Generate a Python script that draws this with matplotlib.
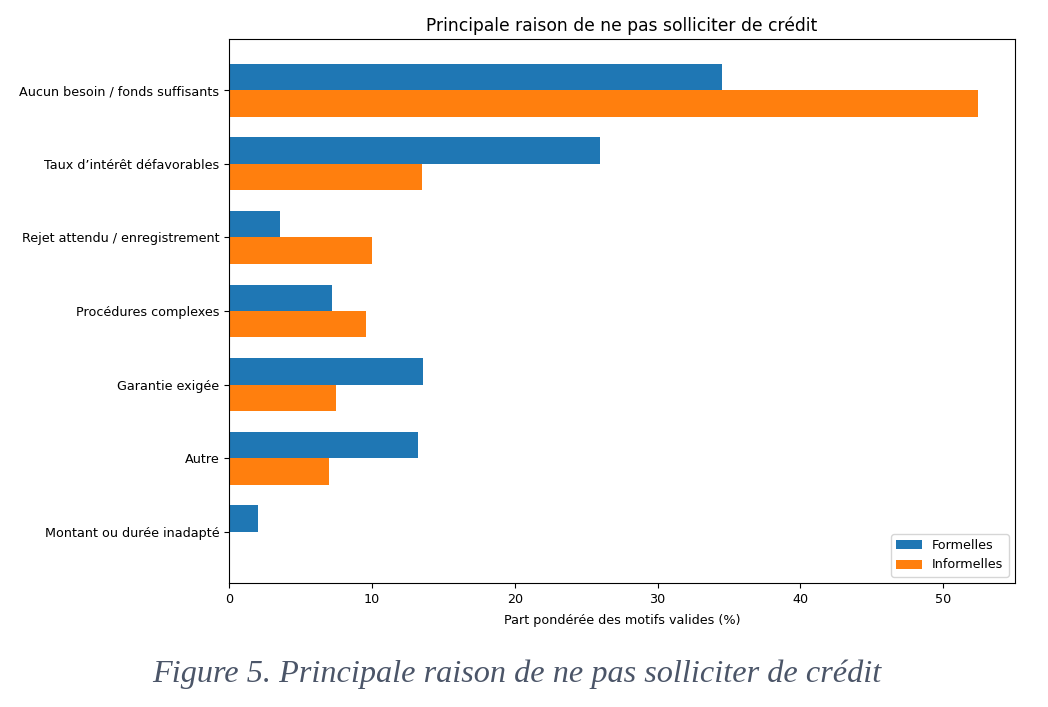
import matplotlib
matplotlib.use('Agg')
import matplotlib.pyplot as plt
import numpy as np

categories = ['Aucun besoin / fonds suffisants', "Taux d\u2019intérêt défavorables",
              'Rejet attendu / enregistrement', 'Procédures complexes',
              'Garantie exigée', 'Autre', 'Montant ou durée inadapté']
formelles = [34.5, 26.0, 3.6, 7.2, 13.6, 13.2, 2.0]
informelles = [52.4, 13.5, 10.0, 9.6, 7.5, 7.0, 0.0]

fig = plt.figure(figsize=(10.48, 7.07), dpi=100)
ax = fig.add_axes([229/1048, 1-583/707, (1015-229)/1048, (583-39)/707])

y = np.arange(len(categories))
h = 0.36
ax.barh(y - h/2, formelles, height=h, color='#1f77b4', label='Formelles')
ax.barh(y + h/2, informelles, height=h, color='#ff7f0e', label='Informelles')
ax.set_yticks(y)
ax.set_yticklabels(categories, fontsize=9.2)
ax.invert_yaxis()
ax.tick_params(axis='x', labelsize=9.2)
ax.set_xlabel('Part pondérée des motifs valides (%)', fontsize=9.2, labelpad=6)
ax.set_title('Principale raison de ne pas solliciter de crédit', fontsize=12.3)
ax.legend(loc='lower right', fontsize=9.2)

fig.text(0.493, 1-674/707, 'Figure 5. Principale raison de ne pas solliciter de crédit',
         ha='center', va='center', fontsize=23.2, style='italic',
         family='Liberation Serif', color='#4b5568')

fig.savefig('out.png', dpi=100)
